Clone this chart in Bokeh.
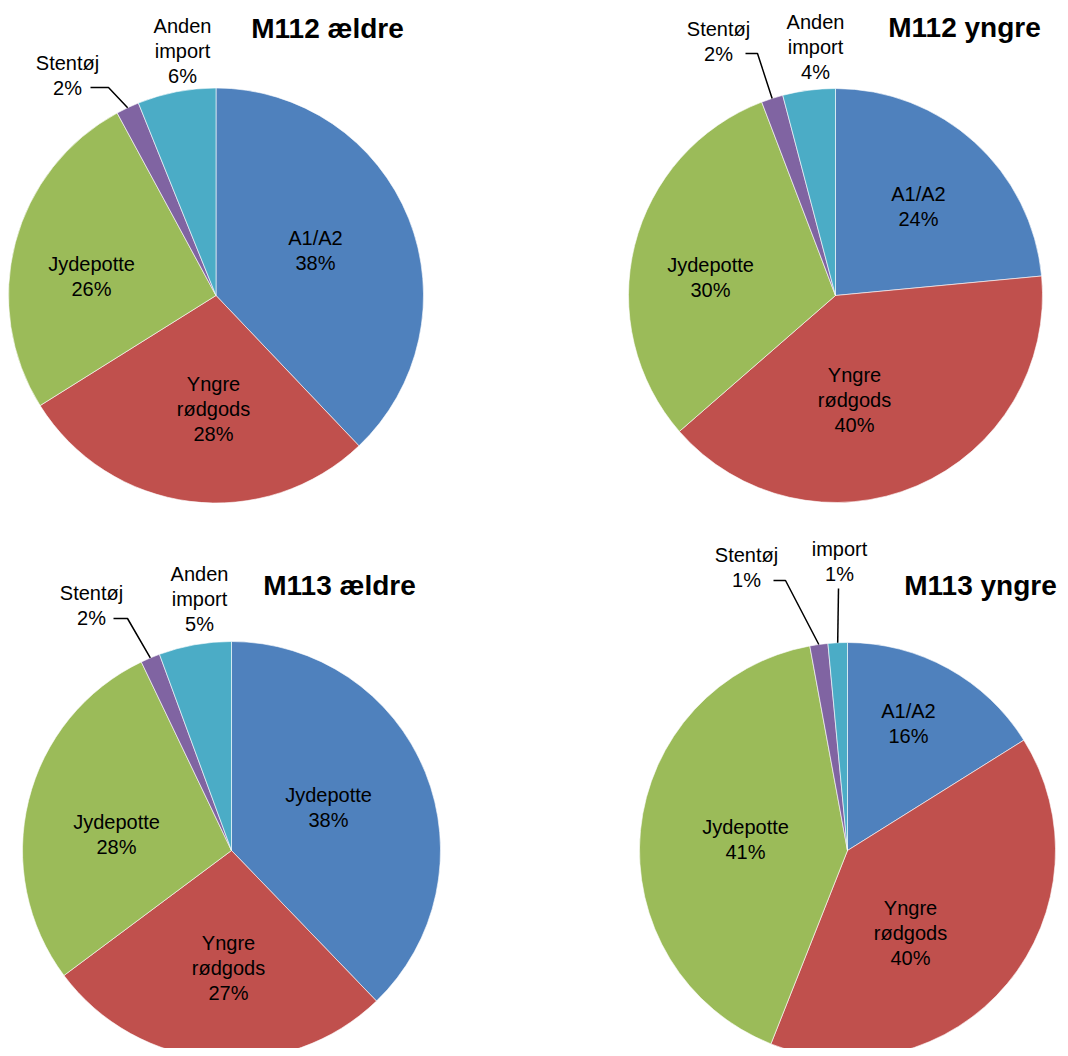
import math
from bokeh.plotting import figure
from bokeh.models import Range1d, ColumnDataSource
from bokeh.core.properties import value
from bokeh.embed import file_html
from bokeh.resources import INLINE

# ---------------- data ----------------
categories = ["A1/A2", "Yngre rødgods", "Jydepotte", "Stentøj", "Anden import"]
colors = ["#4F81BD", "#C0504D", "#9BBB59", "#8064A2", "#4BACC6"]

titles = ["M112 ældre", "M112 yngre", "M113 ældre", "M113 yngre"]

m112_aeldre = [37.9, 28.2, 26.0, 1.8, 6.1]
m112_yngre = [23.5, 40.1, 30.6, 1.7, 4.1]
m113_aeldre = [37.8, 27.0, 28.1, 1.5, 5.6]
m113_yngre = [16.1, 39.9, 41.1, 1.4, 1.5]

labels_m112_aeldre = ["A1/A2\n38%", "Yngre\nrødgods\n28%", "Jydepotte\n26%", "Stentøj\n2%", "Anden\nimport\n6%"]
labels_m112_yngre = ["A1/A2\n24%", "Yngre\nrødgods\n40%", "Jydepotte\n30%", "Stentøj\n2%", "Anden\nimport\n4%"]
labels_m113_aeldre = ["Jydepotte\n38%", "Yngre\nrødgods\n27%", "Jydepotte\n28%", "Stentøj\n2%", "Anden\nimport\n5%"]
labels_m113_yngre = ["A1/A2\n16%", "Yngre\nrødgods\n40%", "Jydepotte\n41%", "Stentøj\n1%", "import\n1%"]

series = [m112_aeldre, m112_yngre, m113_aeldre, m113_yngre]
series_labels = [labels_m112_aeldre, labels_m112_yngre, labels_m113_aeldre, labels_m113_yngre]

# ---------------- layout (pixel positions in the picture) ----------------
W, H = 1060, 1048
layout = [
    dict(center=(215.5, 295), r=207.5, title=(327, 28),
         labels=[(315, 250), (213, 408), (91, 276), (67, 74.5), (182, 50)],
         leaders={3: [(90, 87), (108, 87)]}),
    dict(center=(835, 295), r=207, title=(964, 27),
         labels=[(918, 206), (854, 399), (710, 277), (718, 40.5), (815, 46)],
         leaders={3: [(745, 53), (757, 53)]}),
    dict(center=(231, 850), r=209, title=(339, 585),
         labels=[(328, 807), (228, 967), (116, 834), (91, 604.5), (199, 598)],
         leaders={3: [(113, 618), (127, 618)]}),
    dict(center=(847, 850), r=208, title=(980, 585),
         labels=[(908, 723), (910, 932), (745, 839), (746, 566.5), (839, 560.5)],
         leaders={3: [(773, 580), (785, 580)], 4: [(838, 588)]}),
]
LINE_H = 25
FONT = "Liberation Sans"

p = figure(width=W, height=H, output_backend="svg", toolbar_location=None,
           x_range=Range1d(0, W), y_range=Range1d(-H, 0),
           x_axis_location=None, y_axis_location=None, min_border=0,
           background_fill_color="white", border_fill_color="white")
p.outline_line_color = None
p.xgrid.visible = False
p.ygrid.visible = False

for vals, labs, title, lay in zip(series, series_labels, titles, layout):
    cx, cy = lay["center"]
    r = lay["r"]
    total = float(sum(vals))
    cum = 0.0
    starts, ends, mids = [], [], []
    for v in vals:
        f0 = cum / total
        cum += v
        f1 = cum / total
        starts.append(math.pi / 2 - 2 * math.pi * f0)
        ends.append(math.pi / 2 - 2 * math.pi * f1)
        mids.append(2 * math.pi * (f0 + f1) / 2)  # clockwise from top
    src = ColumnDataSource(dict(x=[cx] * len(vals), y=[-cy] * len(vals),
                                start=starts, end=ends, color=colors[:len(vals)]))
    p.wedge(x="x", y="y", radius=r, start_angle="start", end_angle="end",
            direction="clock", fill_color="color", line_color="white",
            line_width=0.6, source=src)

    # leader lines
    for idx, pts in lay["leaders"].items():
        a = mids[idx]
        ex = cx + r * math.sin(a)
        ey = cy - r * math.cos(a)
        xs = [pt[0] for pt in pts] + [ex]
        ys = [-pt[1] for pt in pts] + [-ey]
        p.line(xs, ys, line_color="black", line_width=1.5)

    # labels
    tx, ty, tt = [], [], []
    for lab, (lx, ly) in zip(labs, lay["labels"]):
        lines = lab.split("\n")
        n = len(lines)
        for k, s in enumerate(lines):
            tx.append(lx)
            ty.append(-(ly + (k - (n - 1) / 2) * LINE_H))
            tt.append(s)
    p.text(x=tx, y=ty, text=tt, text_align="center", text_baseline="middle",
           text_font=value(FONT), text_font_size="20px", text_color="black")

    # title
    p.text(x=[lay["title"][0]], y=[-lay["title"][1]], text=[title],
           text_align="center", text_baseline="middle", text_font=value(FONT),
           text_font_size="28px", text_font_style="bold", text_color="black")

open("out.html", "w").write(file_html(p, INLINE))
